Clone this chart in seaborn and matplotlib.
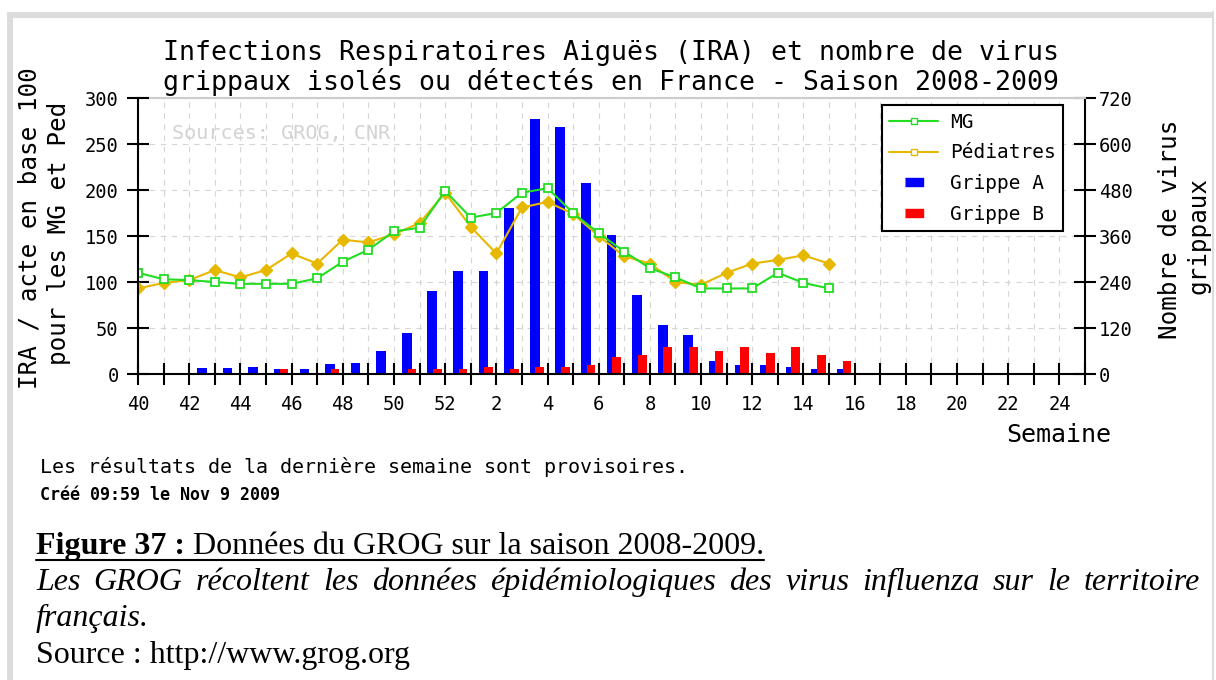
import matplotlib
matplotlib.use("Agg")
import matplotlib.pyplot as plt
import numpy as np
import seaborn as sns
from matplotlib.lines import Line2D
from matplotlib.patches import Rectangle

# semaines 40 (2008) -> 25 (2009)
weeks = [40, 41, 42, 43, 44, 45, 46, 47, 48, 49, 50, 51, 52,
         1, 2, 3, 4, 5, 6, 7, 8, 9, 10, 11, 12, 13, 14, 15,
         16, 17, 18, 19, 20, 21, 22, 23, 24, 25]
# IRA / acte en base 100 (semaines 40 -> 15)
mg = [110, 103, 102, 100, 98, 98, 98, 104, 122, 135, 155, 159, 199,
      170, 175, 197, 202, 175, 153, 133, 115, 105, 93, 93, 93, 110, 99, 93]
pediatres = [93, 99, 102, 113, 105, 113, 131, 120, 146, 143, 152, 164, 197,
             160, 131, 181, 187, 174, 150, 128, 120, 100, 97, 110, 120, 124, 129, 120]
# nombre de virus grippaux
grippe_a = [0, 0, 16, 16, 18, 12, 14, 26, 29, 60, 107, 217, 269,
            269, 433, 665, 644, 498, 363, 206, 128, 102, 34, 23, 23, 18, 13, 13]
grippe_b = [0, 0, 0, 0, 0, 12, 0, 14, 0, 0, 12, 12, 12,
            18, 14, 18, 18, 23, 44, 50, 70, 70, 60, 70, 55, 70, 50, 34]

W, H = 1216, 680
GREEN = "#22dd22"
GOLD = "#e6b800"
MONO = "DejaVu Sans Mono"
SERIF = "Liberation Serif"

sns.set_style("white")
plt.rcParams["font.family"] = [MONO, "DejaVu Sans"]
plt.rcParams["text.color"] = "black"
plt.rcParams["xtick.color"] = "black"
plt.rcParams["ytick.color"] = "black"
plt.rcParams["axes.labelcolor"] = "black"

fig = plt.figure(figsize=(W / 100, H / 100), dpi=100)
ax = fig.add_axes([138 / W, 306 / H, 947 / W, 276 / H])
ax2 = ax.twinx()

idx = np.arange(len(mg))
sns.barplot(x=idx + 0.5, y=grippe_a, native_scale=True, width=0.38, color="#0000ff",
            saturation=1, linewidth=0, errorbar=None, ax=ax)
sns.barplot(x=idx + 0.7, y=grippe_b, native_scale=True, width=0.34, color="#ff0000",
            saturation=1, linewidth=0, errorbar=None, ax=ax)

sns.lineplot(x=idx, y=pediatres, ax=ax2, color=GOLD, marker="D", markersize=6,
             markeredgecolor=GOLD, markerfacecolor=GOLD, markeredgewidth=1, linewidth=1.5)
sns.lineplot(x=idx, y=mg, ax=ax2, color=GREEN, marker="s", markersize=6,
             markerfacecolor="white", markeredgecolor=GREEN, markeredgewidth=1.3, linewidth=1.5)

ax.set_xlim(0, 37)
ax.set_ylim(0, 720)
ax2.set_ylim(0, 300)
ax.set_xticks(range(len(weeks)))
ax.set_xticklabels([str(w) if i % 2 == 0 else "" for i, w in enumerate(weeks)])
ax.set_yticks(range(0, 721, 120))
ax2.set_yticks(range(0, 301, 50))
ax.set_xlabel("")
ax.set_ylabel("")
ax2.set_xlabel("")
ax2.set_ylabel("")

tick_kw = dict(direction="inout", length=16, width=1.5, color="black", labelcolor="black",
               labelsize=13.5)
ax.tick_params(axis="x", pad=7, bottom=True, **tick_kw)
ax.tick_params(axis="y", pad=2, left=False, right=True, labelleft=False, labelright=True, **tick_kw)
ax2.tick_params(axis="y", pad=6, left=True, right=False, labelleft=True, labelright=False, **tick_kw)

ax.grid(True, color="#d5d5d5", linestyle=(0, (5, 5)), linewidth=0.8)
ax.set_axisbelow(True)

for s in ["bottom", "right"]:
    ax.spines[s].set_visible(True)
    ax.spines[s].set_color("black")
    ax.spines[s].set_linewidth(1.5)
ax.spines["top"].set_color("#cccccc")
ax.spines["top"].set_linewidth(1.5)
ax.spines["left"].set_visible(False)
for s in ["top", "right", "bottom"]:
    ax2.spines[s].set_visible(False)
ax2.spines["left"].set_visible(True)
ax2.spines["left"].set_color("black")
ax2.spines["left"].set_linewidth(1.5)

ax2.text(0.036, 0.873, "Sources: GROG, CNR", transform=ax2.transAxes, color="#d3d3d3",
         fontsize=14.5, va="center", ha="left")

rect = [(-1, -0.45), (1, -0.45), (1, 0.45), (-1, 0.45)]
handles = [
    Line2D([], [], color=GREEN, marker="s", markersize=5, markerfacecolor="white",
           markeredgecolor=GREEN, linewidth=1.5),
    Line2D([], [], color=GOLD, marker="s", markersize=5, markerfacecolor="white",
           markeredgecolor=GOLD, linewidth=1.5),
    Line2D([], [], linestyle="none", marker=rect, markersize=13, color="#0000ff"),
    Line2D([], [], linestyle="none", marker=rect, markersize=13, color="#ff0000"),
]
leg = ax2.legend(handles, ["MG", "Pédiatres", "Grippe A", "Grippe B"],
                 loc="upper right", bbox_to_anchor=(0.977, 0.975), borderaxespad=0,
                 fontsize=14, frameon=True, fancybox=False, edgecolor="black", framealpha=1,
                 handlelength=2.5, handletextpad=0.6, labelspacing=0.6, borderpad=0.4)
leg.get_frame().set_linewidth(1.5)

# titres et labels
fig.text(611 / W, 1 - 60 / H, "Infections Respiratoires Aiguës (IRA) et nombre de virus",
         ha="center", va="baseline", fontsize=19.1)
fig.text(611 / W, 1 - 90 / H, "grippaux isolés ou détectés en France - Saison 2008-2009",
         ha="center", va="baseline", fontsize=19.1)
fig.text(30 / W, 1 - 228 / H, "IRA / acte en base 100", rotation=90, ha="center", va="center", fontsize=17.5)
fig.text(59 / W, 1 - 233 / H, "pour les MG et Ped", rotation=90, ha="center", va="center", fontsize=17.5)
fig.text(1170 / W, 1 - 229 / H, "Nombre de virus", rotation=90, ha="center", va="center", fontsize=17.5)
fig.text(1199 / W, 1 - 236 / H, "grippaux", rotation=90, ha="center", va="center", fontsize=17.5)
fig.text(1111 / W, 1 - 435 / H, "Semaine", ha="right", va="center", fontsize=18)
fig.text(40 / W, 1 - 467 / H, "Les résultats de la dernière semaine sont provisoires.",
         ha="left", va="center", fontsize=14.4)
fig.text(40 / W, 1 - 495 / H, "Créé 09:59 le Nov 9 2009", ha="left", va="center",
         fontsize=12, fontweight="bold")

# cadre gris
fig.add_artist(Rectangle((7 / W, 0), 6 / W, 1 - 12 / H, transform=fig.transFigure,
                         color="#dcdcdc", lw=0))
fig.add_artist(Rectangle((7 / W, 1 - 18 / H), 1206 / W, 6 / H, transform=fig.transFigure,
                         color="#dcdcdc", lw=0))
fig.add_artist(Line2D([1213 / W, 1213 / W], [0, 1 - 12 / H], transform=fig.transFigure,
                      color="#dcdcdc", lw=1.5))

# légende de la figure
r = fig.canvas.get_renderer()
cap = 23
t1 = fig.text(36 / W, 1 - 554 / H, "Figure 37 :", family=SERIF, fontweight="bold",
              fontsize=cap, va="baseline")
b1 = t1.get_window_extent(r)
t2 = fig.text(b1.x1 / W, 1 - 554 / H, " Données du GROG sur la saison 2008-2009.",
              family=SERIF, fontsize=cap, va="baseline")
b2 = t2.get_window_extent(r)
fig.add_artist(Line2D([36 / W, b2.x1 / W], [1 - 560 / H] * 2, transform=fig.transFigure,
                      color="black", lw=1.5))

words = "Les GROG récoltent les données épidémiologiques des virus influenza sur le territoire".split()
ts = [fig.text(0, 1 - 590 / H, w, family=SERIF, style="italic", fontsize=cap, va="baseline")
      for w in words]
widths = [t.get_window_extent(r).width for t in ts]
gap = (1200 - 36 - sum(widths)) / (len(words) - 1)
x = 36
for t, w in zip(ts, widths):
    t.set_x(x / W)
    x += w + gap
fig.text(36 / W, 1 - 626 / H, "français.", family=SERIF, style="italic", fontsize=cap, va="baseline")
fig.text(36 / W, 1 - 663 / H, "Source : http://www.grog.org", family=SERIF, fontsize=cap, va="baseline")

fig.savefig("out.png", dpi=100, facecolor="white")
